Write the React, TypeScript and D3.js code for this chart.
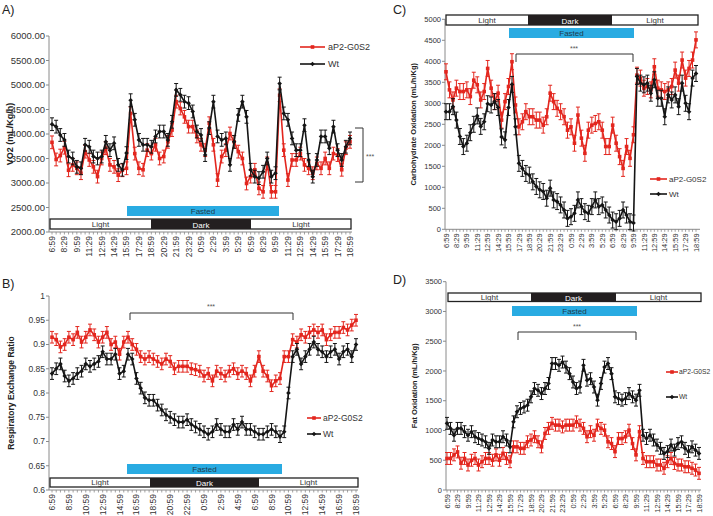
import React from 'react';
import * as d3 from 'd3';

// ---------- tick labels ----------
const timesA = ["6:59","8:29","9:59","11:29","12:59","14:29","15:59","17:29","18:59","20:29","21:59","23:29","0:59","2:29","3:59","5:29","6:59","8:29","9:59","11:29","12:59","14:29","15:59","17:29","18:59"];
const timesB = ["6:59","8:59","10:59","12:59","14:59","16:59","18:59","20:59","22:59","0:59","2:59","4:59","6:59","8:59","10:59","12:59","14:59","16:59","18:59"];

// ---------- A) VO2 ----------
const vo2Tg = [3830,3480,3560,3720,3260,3370,3300,3200,3640,3470,3330,3130,3500,3710,3370,3330,3160,3260,3300,4420,3600,3300,3270,3670,3600,3780,3500,3540,3840,4080,4660,4520,4350,4150,4150,3950,3780,3670,4220,3780,3060,3540,3670,4010,3840,3640,3500,2990,3130,3270,2890,2820,3400,2820,2820,4790,3670,3060,3470,3470,3600,3370,3300,3200,3400,3300,3500,3300,3600,3570,3270,3710,3840];
const vo2Wt = [4200,4150,3980,3880,3540,3500,3330,3300,3780,3740,3540,3500,3540,3840,3670,3810,3370,3270,3610,4690,4290,3880,3780,3780,3740,3950,4050,4050,3880,4250,4900,4800,4660,4630,4460,4050,3980,3570,4120,4660,3950,3880,3910,3370,3840,4390,4660,4350,3270,3130,3100,3230,3500,3130,3200,5030,4420,4290,3910,3670,3670,4180,3470,3130,3470,3950,3950,3710,4150,3670,3470,3740,3910];
const vo2Err = 130;

// ---------- B) RER ----------
const rerTg = [0.915,0.91,0.895,0.90,0.915,0.91,0.925,0.905,0.915,0.93,0.92,0.905,0.915,0.925,0.90,0.905,0.88,0.905,0.915,0.90,0.89,0.875,0.87,0.875,0.87,0.865,0.86,0.87,0.865,0.85,0.855,0.855,0.855,0.85,0.848,0.845,0.835,0.84,0.825,0.845,0.84,0.835,0.845,0.85,0.84,0.845,0.84,0.825,0.845,0.875,0.845,0.835,0.815,0.825,0.83,0.875,0.875,0.91,0.905,0.92,0.915,0.925,0.93,0.925,0.93,0.91,0.92,0.925,0.925,0.935,0.93,0.94,0.95];
const rerWt = [0.84,0.85,0.86,0.835,0.825,0.83,0.84,0.845,0.86,0.855,0.86,0.865,0.885,0.87,0.87,0.88,0.84,0.845,0.88,0.87,0.83,0.81,0.79,0.785,0.785,0.775,0.765,0.755,0.75,0.745,0.74,0.74,0.745,0.735,0.73,0.725,0.72,0.715,0.72,0.735,0.725,0.72,0.72,0.735,0.725,0.74,0.725,0.725,0.72,0.715,0.715,0.72,0.725,0.72,0.71,0.72,0.80,0.875,0.89,0.86,0.875,0.89,0.905,0.89,0.885,0.875,0.885,0.89,0.87,0.885,0.89,0.875,0.90];
const rerErr = 0.012;

// ---------- C) Carbohydrate oxidation ----------
const choTg = [3750,3320,3080,3360,3280,3280,3320,3160,3550,3440,3080,3280,3830,3360,3040,3240,2600,3040,3400,3990,2960,2440,2560,2800,2680,2680,2600,2600,2480,2680,3240,3040,2880,2800,2680,2360,2440,2050,2720,2170,1810,2360,2480,2520,2560,2360,1970,1970,2480,2050,1730,1450,1970,1690,2250,3670,3600,3360,3400,3320,3870,3360,3320,3280,3320,3400,3790,3480,4030,3600,3830,4030,4510];
const choWt = [2800,2800,2920,2600,2210,1970,2050,2300,2500,2700,2450,2560,2990,2960,3040,2900,2200,2130,2900,3450,2440,1570,1450,1330,1290,1130,1020,940,900,740,980,700,660,580,460,260,300,380,700,540,420,380,540,700,540,580,460,340,220,180,260,460,340,180,150,3640,3480,3440,3480,3240,3560,3120,3120,2680,3200,3080,3200,2920,3480,3000,2800,3600,3710];
const choErr = 190;

// ---------- D) Fat oxidation ----------
const fatTg = [530,530,590,640,450,530,420,500,530,420,475,530,530,500,590,500,615,530,475,725,725,700,700,810,840,895,810,725,950,1035,1120,1090,1090,1060,1090,1090,1090,1145,1090,1035,895,980,920,1090,1035,1005,810,780,645,865,865,895,1005,780,590,980,530,475,475,475,420,420,365,475,530,445,420,420,390,390,365,335,280];
const fatWt = [1120,1035,920,1035,1035,980,920,980,895,865,840,810,700,840,810,810,895,840,725,1145,1315,1370,1395,1425,1565,1705,1675,1620,1705,1790,2125,2125,2095,2150,2065,1955,1815,1705,1730,2095,1845,1870,1730,1510,1790,2065,2125,1955,1565,1535,1510,1535,1620,1565,1510,1675,920,865,920,840,755,700,615,645,755,670,780,810,700,645,725,670,615];
const fatErr = 100;

const seriesNames = ["aP2-G0S2", "Wt"];

const RED = '#e3261e';
const BLK = '#151515';
const CYAN = '#29abe2';
const FONT = "'Liberation Sans', Arial, sans-serif";

type Cfg = {
  tag: string; tagX: number; tagY: number;
  x0: number; x1: number; axisL: number; axisR: number;
  yDomain: [number, number]; yTop: number; yBot: number;
  yTicks: number[]; fmt: (v: number) => string; yFont: number;
  yTitle: string; yTitleX: number; yTitleFont: number;
  labels: string[]; labelStep: number; xFont: number;
  red: number[]; wt: number[]; err: number;
  ld: { y: number; h: number; x0: number; x1: number; d0: number; d1: number };
  fast: { y: number; h: number; x0: number; x1: number };
  legend: { x0: number; x1: number; tx: number; y1: number; y2: number; font: number };
  bracket: { kind: 'h' | 'v'; a: number; b: number; c: number; d: number; tx: number; ty: number };
};

const panels: Cfg[] = [
  {
    tag: 'A)', tagX: 2, tagY: 14,
    x0: 52, x1: 350, axisL: 49, axisR: 352,
    yDomain: [2000, 6000], yTop: 36, yBot: 232,
    yTicks: [2000, 2500, 3000, 3500, 4000, 4500, 5000, 5500, 6000], fmt: v => v.toFixed(2), yFont: 9.5,
    yTitle: 'VO2 (mL/Kg/h)', yTitleX: 10, yTitleFont: 9,
    labels: timesA, labelStep: 3, xFont: 8.5,
    red: vo2Tg, wt: vo2Wt, err: vo2Err,
    ld: { y: 219, h: 10, x0: 50, x1: 351, d0: 151, d1: 251 },
    fast: { y: 206, h: 10, x0: 127, x1: 279 },
    legend: { x0: 300, x1: 325, tx: 328, y1: 47, y2: 64, font: 9 },
    bracket: { kind: 'v', a: 355, b: 363, c: 128, d: 182, tx: 366, ty: 159 },
  },
  {
    tag: 'B)', tagX: 2, tagY: 288,
    x0: 52, x1: 356, axisL: 49, axisR: 358,
    yDomain: [0.6, 1], yTop: 296, yBot: 490,
    yTicks: [0.6, 0.65, 0.7, 0.75, 0.8, 0.85, 0.9, 0.95, 1], fmt: v => String(+v.toFixed(2)), yFont: 8.5,
    yTitle: 'Respiratory Exchange Ratio', yTitleX: 11, yTitleFont: 8.5,
    labels: timesB, labelStep: 4, xFont: 8.5,
    red: rerTg, wt: rerWt, err: rerErr,
    ld: { y: 478, h: 9, x0: 50, x1: 358, d0: 150, d1: 259 },
    fast: { y: 464, h: 10, x0: 127, x1: 282 },
    legend: { x0: 307, x1: 321, tx: 323, y1: 418, y2: 434, font: 8.5 },
    bracket: { kind: 'h', a: 130, b: 293, c: 313, d: 320, tx: 211, ty: 309 },
  },
  {
    tag: 'C)', tagX: 393, tagY: 14,
    x0: 446, x1: 696, axisL: 445, axisR: 700,
    yDomain: [0, 5000], yTop: 19.3, yBot: 229.3,
    yTicks: [0, 500, 1000, 1500, 2000, 2500, 3000, 3500, 4000, 4500, 5000], fmt: v => String(v), yFont: 7.5,
    yTitle: 'Carbohydrate Oxidation (mL/h/Kg)', yTitleX: 413, yTitleFont: 7.5,
    labels: timesA, labelStep: 3, xFont: 7.5,
    red: choTg, wt: choWt, err: choErr,
    ld: { y: 15, h: 10, x0: 446, x1: 698, d0: 528, d1: 612 },
    fast: { y: 28, h: 10, x0: 509, x1: 634 },
    legend: { x0: 650, x1: 667, tx: 669, y1: 179, y2: 194, font: 8 },
    bracket: { kind: 'h', a: 516, b: 633, c: 54, d: 62, tx: 574, ty: 51 },
  },
  {
    tag: 'D)', tagX: 393, tagY: 284,
    x0: 447, x1: 699, axisL: 446, axisR: 701,
    yDomain: [0, 3500], yTop: 281.7, yBot: 490,
    yTicks: [0, 500, 1000, 1500, 2000, 2500, 3000, 3500], fmt: v => String(v), yFont: 7.5,
    yTitle: 'Fat Oxidation (mL/h/Kg)', yTitleX: 414, yTitleFont: 7.5,
    labels: timesA, labelStep: 3, xFont: 7.5,
    red: fatTg, wt: fatWt, err: fatErr,
    ld: { y: 293, h: 8.5, x0: 448, x1: 701, d0: 531, d1: 616 },
    fast: { y: 306, h: 10, x0: 512, x1: 637 },
    legend: { x0: 666, x1: 678, tx: 679, y1: 372, y2: 397, font: 6.7 },
    bracket: { kind: 'h', a: 518, b: 636, c: 332, d: 340, tx: 577, ty: 329 },
  },
];

function Marker({ cx, cy, color, kind }: { cx: number; cy: number; color: string; kind: 'sq' | 'di' }) {
  if (kind === 'sq') return <rect x={cx - 1.8} y={cy - 1.8} width={3.6} height={3.6} fill={color} />;
  return <path d={`M${cx},${cy - 2.3}L${cx + 2.3},${cy}L${cx},${cy + 2.3}L${cx - 2.3},${cy}Z`} fill={color} />;
}

function Series({ data, x, y, err, color, kind }: any) {
  const line = d3.line<number>().x((_, i) => x(i)).y(d => y(d));
  return (
    <g>
      {data.map((v: number, i: number) => {
        const xi = x(i);
        return (
          <g key={i} stroke={color} strokeWidth={1}>
            <line x1={xi} x2={xi} y1={y(v - err)} y2={y(v + err)} />
            <line x1={xi - 2} x2={xi + 2} y1={y(v + err)} y2={y(v + err)} />
            <line x1={xi - 2} x2={xi + 2} y1={y(v - err)} y2={y(v - err)} />
          </g>
        );
      })}
      <path d={line(data) || ''} fill="none" stroke={color} strokeWidth={1.6} />
      {data.map((v: number, i: number) => (
        <Marker key={i} cx={x(i)} cy={y(v)} color={color} kind={kind} />
      ))}
    </g>
  );
}

function Panel({ c }: { c: Cfg }) {
  const n = c.red.length;
  const x = d3.scaleLinear().domain([0, n - 1]).range([c.x0, c.x1]);
  const y = d3.scaleLinear().domain(c.yDomain).range([c.yBot, c.yTop]);
  const ticksIdx = d3.range(n);
  const b = c.bracket;
  const midY = (c.yTop + c.yBot) / 2;
  return (
    <g fontFamily={FONT}>
      <text x={c.tagX} y={c.tagY} fontSize={12.5} fill="#222">{c.tag}</text>
      {/* y axis */}
      <line x1={c.axisL} x2={c.axisL} y1={c.yTop} y2={c.yBot} stroke="#8a8a8a" strokeWidth={1} />
      {c.yTicks.map(t => (
        <g key={t}>
          <line x1={c.axisL - 3} x2={c.axisL} y1={y(t)} y2={y(t)} stroke="#8a8a8a" />
          <text x={c.axisL - 4} y={y(t)} dy="0.35em" textAnchor="end" fontSize={c.yFont} fill="#333">{c.fmt(t)}</text>
        </g>
      ))}
      <text transform={`translate(${c.yTitleX},${midY}) rotate(-90)`} textAnchor="middle" dy="0.35em"
        fontSize={c.yTitleFont} fontWeight="bold" fill="#222">{c.yTitle}</text>
      {/* x axis */}
      <line x1={c.axisL} x2={c.axisR} y1={c.yBot} y2={c.yBot} stroke="#8a8a8a" strokeWidth={1} />
      {ticksIdx.map(i => (
        <line key={i} x1={x(i)} x2={x(i)} y1={c.yBot} y2={c.yBot + 2.5} stroke="#8a8a8a" strokeWidth={0.8} />
      ))}
      {c.labels.map((l, k) => (
        <text key={k} transform={`translate(${x(k * c.labelStep)},${c.yBot + 4}) rotate(-90)`}
          textAnchor="end" dy="0.35em" fontSize={c.xFont} fill="#333">{l}</text>
      ))}
      {/* light/dark bar */}
      <rect x={c.ld.x0} y={c.ld.y} width={c.ld.x1 - c.ld.x0} height={c.ld.h} fill="#fff" stroke="#222" strokeWidth={1.3} />
      <rect x={c.ld.d0} y={c.ld.y} width={c.ld.d1 - c.ld.d0} height={c.ld.h} fill="#231f20" />
      <text x={(c.ld.x0 + c.ld.d0) / 2} y={c.ld.y + c.ld.h / 2} dy="0.35em" textAnchor="middle" fontSize={8} fill="#333">Light</text>
      <text x={(c.ld.d0 + c.ld.d1) / 2} y={c.ld.y + c.ld.h / 2 + 1} dy="0.35em" textAnchor="middle" fontSize={8} fill="#fff">Dark</text>
      <text x={(c.ld.d1 + c.ld.x1) / 2} y={c.ld.y + c.ld.h / 2} dy="0.35em" textAnchor="middle" fontSize={8} fill="#333">Light</text>
      {/* fasted bar */}
      <rect x={c.fast.x0} y={c.fast.y} width={c.fast.x1 - c.fast.x0} height={c.fast.h} fill={CYAN} />
      <text x={(c.fast.x0 + c.fast.x1) / 2} y={c.fast.y + c.fast.h / 2} dy="0.35em" textAnchor="middle" fontSize={8} fill="#1d3b4c">Fasted</text>
      {/* bracket */}
      {b.kind === 'h' ? (
        <g>
          <path d={`M${b.a},${b.d}V${b.c}H${b.b}V${b.d}`} fill="none" stroke="#333" strokeWidth={1} />
          <text x={b.tx} y={b.ty} textAnchor="middle" fontSize={7} fill="#555">***</text>
        </g>
      ) : (
        <g>
          <path d={`M${b.a},${b.c}H${b.b}V${b.d}H${b.a}`} fill="none" stroke="#333" strokeWidth={1} />
          <text x={b.tx} y={b.ty} fontSize={7} fill="#555">***</text>
        </g>
      )}
      {/* series */}
      <Series data={c.red} x={x} y={y} err={c.err} color={RED} kind="sq" />
      <Series data={c.wt} x={x} y={y} err={c.err} color={BLK} kind="di" />
      {/* legend */}
      <line x1={c.legend.x0} x2={c.legend.x1} y1={c.legend.y1} y2={c.legend.y1} stroke={RED} strokeWidth={1.6} />
      <Marker cx={(c.legend.x0 + c.legend.x1) / 2} cy={c.legend.y1} color={RED} kind="sq" />
      <text x={c.legend.tx} y={c.legend.y1} dy="0.35em" fontSize={c.legend.font} fill="#333">{seriesNames[0]}</text>
      <line x1={c.legend.x0} x2={c.legend.x1} y1={c.legend.y2} y2={c.legend.y2} stroke={BLK} strokeWidth={1.6} />
      <Marker cx={(c.legend.x0 + c.legend.x1) / 2} cy={c.legend.y2} color={BLK} kind="di" />
      <text x={c.legend.tx} y={c.legend.y2} dy="0.35em" fontSize={c.legend.font} fill="#333">{seriesNames[1]}</text>
    </g>
  );
}

export default function App() {
  return (
    <svg width={713} height={516} style={{ position: 'absolute', left: 0, top: 0, background: '#fff' }}>
      <rect width={713} height={516} fill="#fff" />
      {panels.map((c, i) => <Panel key={i} c={c} />)}
    </svg>
  );
}
